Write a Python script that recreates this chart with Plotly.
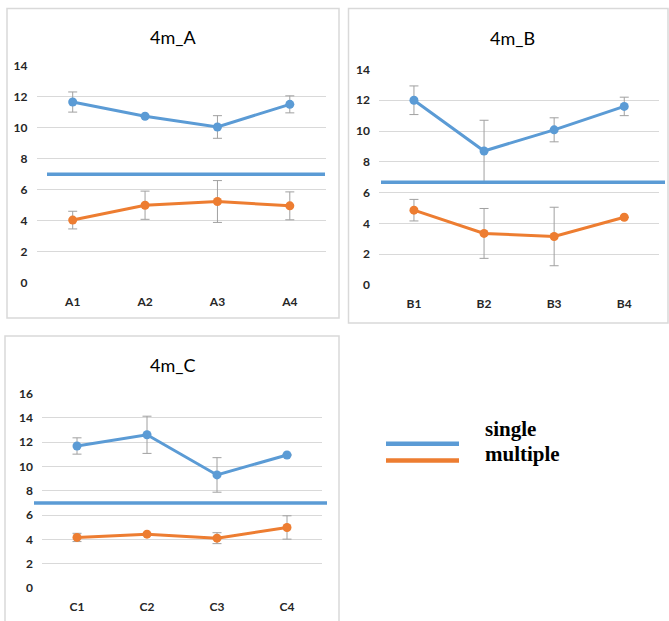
import plotly.graph_objects as go

W, H = 669, 621
# vertical calibration of the capture pipeline (observed ~2.2% vertical squeeze)
SY, OFFY = 0.978, 6.4

# ---------------- data ----------------
cats_a = ["A1", "A2", "A3", "A4"]
single_a = [11.66, 10.74, 10.05, 11.51]
single_a_err = [0.65, 0.0, 0.73, 0.55]
multiple_a = [4.04, 5.0, 5.24, 4.96]
multiple_a_err = [0.57, 0.91, 1.35, 0.90]

cats_b = ["B1", "B2", "B3", "B4"]
single_b = [12.0, 8.7, 10.08, 11.6]
single_b_err = [0.93, 2.0, 0.78, 0.6]
multiple_b = [4.86, 3.35, 3.15, 4.4]
multiple_b_err = [0.70, 1.62, 1.90, 0.0]

cats_c = ["C1", "C2", "C3", "C4"]
single_c = [11.68, 12.6, 9.3, 10.94]
single_c_err = [0.67, 1.53, 1.42, 0.0]
multiple_c = [4.16, 4.43, 4.1, 4.98]
multiple_c_err = [0.34, 0.0, 0.45, 0.96]

titles = ["4m_A", "4m_B", "4m_C"]
separators = [7.0, 6.67, 7.0]
y_ticks_ab = [0, 2, 4, 6, 8, 10, 12, 14]
y_ticks_c = [0, 2, 4, 6, 8, 10, 12, 14, 16]
legend_names = ["single", "multiple"]

BLUE = "#5B9BD5"
ORANGE = "#ED7D31"
GRID = "#D9D9D9"
ERR = "#A0A0A0"
TICKFONT = dict(family="Lato, Liberation Sans, Arial", size=12,
                color="#262626", weight="bold")


def px_x(p):
    return p / W


def px_y(p):
    return 1 - ((p - OFFY) / SY) / H


fig = go.Figure()

panels = [
    (cats_a, single_a, single_a_err, multiple_a, multiple_a_err, (36.5, 326.0), (281.7, 64.3), y_ticks_ab, ""),
    (cats_b, single_b, single_b_err, multiple_b, multiple_b_err, (378.9, 659.3), (284.0, 68.0), y_ticks_ab, "2"),
    (cats_c, single_c, single_c_err, multiple_c, multiple_c_err, (42.0, 322.0), (587.7, 392.7), y_ticks_c, "3"),
]

for i, (cats, s, se, m, me, xd, yd, yt, suf) in enumerate(panels):
    xa = "x" + suf
    ya = "y" + suf
    for vals, errs, col in ((s, se, BLUE), (m, me, ORANGE)):
        fig.add_trace(go.Scatter(
            x=cats, y=vals, xaxis=xa, yaxis=ya, mode="lines+markers",
            line=dict(color=col, width=3),
            marker=dict(color=col, size=9),
            error_y=dict(type="data", array=errs, visible=True, color=ERR,
                         thickness=1, width=4.5),
            showlegend=False,
        ))
    xkey = "xaxis" + suf
    ykey = "yaxis" + suf
    fig.update_layout({
        xkey: dict(domain=[px_x(xd[0]), px_x(xd[1])], anchor=ya,
                   range=[-0.5, 3.5], showgrid=False, zeroline=False,
                   showline=False, ticks="", ticklabelstandoff=10,
                   tickfont=TICKFONT),
        ykey: dict(domain=[px_y(yd[0]), px_y(yd[1])], anchor=xa,
                   range=[0, yt[-1]], tickvals=yt, showgrid=True,
                   gridcolor=GRID, gridwidth=1, zeroline=False,
                   showline=False, ticks="", ticklabelstandoff=8,
                   tickfont=TICKFONT),
    })

# separator lines (horizontal, data-valued)
sep_spans = [(47, 325), (381, 665), (34, 327)]
sep_refs = ["y", "y2", "y3"]
for val, (x0, x1), yr in zip(separators, sep_spans, sep_refs):
    fig.add_shape(type="line", xref="paper", yref=yr,
                  x0=px_x(x0), x1=px_x(x1), y0=val, y1=val,
                  line=dict(color=BLUE, width=3.5), layer="above")

# panel frames
frames = [(7, 7, 339, 317), (348.5, 7, 668, 322), (5, 335, 339, 640)]
for x0, y0, x1, y1 in frames:
    fig.add_shape(type="rect", xref="paper", yref="paper",
                  x0=px_x(x0), x1=px_x(x1), y0=px_y(y1), y1=px_y(y0),
                  line=dict(color=GRID, width=1.5), layer="below")

# titles
title_pos = [(173, 35), (512, 36), (173, 364)]
for t, (x, y) in zip(titles, title_pos):
    fig.add_annotation(text=t, xref="paper", yref="paper", x=px_x(x), y=px_y(y),
                       showarrow=False, xanchor="center", yanchor="middle",
                       font=dict(family="Lato, Liberation Sans, Arial", size=18,
                                 color="#000000"))

# legend
leg_colors = [BLUE, ORANGE]
leg_line_y = [443, 460]
leg_text_y = [428, 453]
for name, col, ly, ty in zip(legend_names, leg_colors, leg_line_y, leg_text_y):
    fig.add_shape(type="line", xref="paper", yref="paper",
                  x0=px_x(386), x1=px_x(459), y0=px_y(ly), y1=px_y(ly),
                  line=dict(color=col, width=4.5))
    fig.add_annotation(text="<b>%s</b>" % name, xref="paper", yref="paper",
                       x=px_x(483), y=px_y(ty), showarrow=False,
                       xanchor="left", yanchor="middle",
                       font=dict(family="Liberation Serif, Times New Roman",
                                 size=21, color="black"))

fig.update_layout(
    width=W, height=H,
    margin=dict(l=0, r=0, t=0, b=0),
    paper_bgcolor="white", plot_bgcolor="white",
    showlegend=False,
)

fig.write_html("out.html", config={"displayModeBar": False},
               post_script="document.body.style.margin='0';"
                           "document.body.style.overflow='hidden';")
